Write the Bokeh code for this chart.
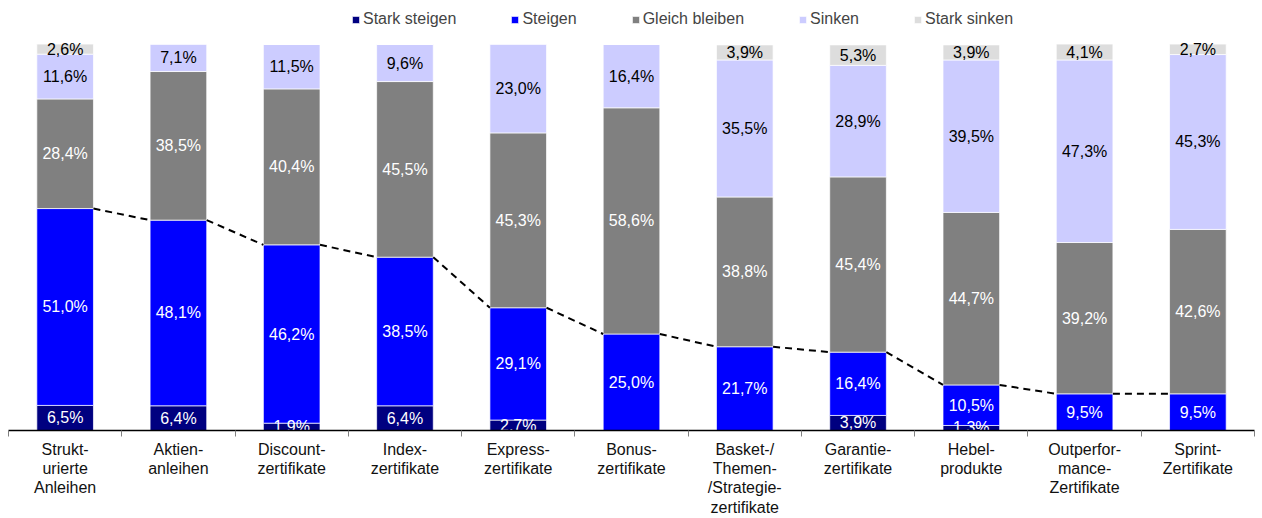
from bokeh.plotting import figure
from bokeh.models import ColumnDataSource, Range1d, FixedTicker, Legend
from bokeh.core.properties import value
from bokeh.embed import file_html
from bokeh.resources import INLINE

categories = ["Strukt-\nurierte\nAnleihen", "Aktien-\nanleihen", "Discount-\nzertifikate",
              "Index-\nzertifikate", "Express-\nzertifikate", "Bonus-\nzertifikate",
              "Basket-/\nThemen-\n/Strategie-\nzertifikate", "Garantie-\nzertifikate",
              "Hebel-\nprodukte", "Outperfor-\nmance-\nZertifikate", "Sprint-\nZertifikate"]
series_names = ["Stark steigen", "Steigen", "Gleich bleiben", "Sinken", "Stark sinken"]
stark_steigen = [6.5, 6.4, 1.9, 6.4, 2.7, 0.0, 0.0, 3.9, 1.3, 0.0, 0.0]
steigen       = [51.0, 48.1, 46.2, 38.5, 29.1, 25.0, 21.7, 16.4, 10.5, 9.5, 9.5]
gleich        = [28.4, 38.5, 40.4, 45.5, 45.3, 58.6, 38.8, 45.4, 44.7, 39.2, 42.6]
sinken        = [11.6, 7.1, 11.5, 9.6, 23.0, 16.4, 35.5, 28.9, 39.5, 47.3, 45.3]
stark_sinken  = [2.6, 0.0, 0.0, 0.0, 0.0, 0.0, 3.9, 5.3, 3.9, 4.1, 2.7]

colors = ["#000080", "#0000FF", "#808080", "#CCCCFF", "#DDDDDD"]
label_colors = ["white", "white", "white", "black", "black"]
FONT = "Liberation Sans"

n = len(categories)
xs = [i + 0.5 for i in range(n)]
keys = ["s0", "s1", "s2", "s3", "s4"]
data = dict(x=xs, s0=stark_steigen, s1=steigen, s2=gleich, s3=sinken, s4=stark_sinken)
source = ColumnDataSource(data)

FH = 430  # expected frame height
p = figure(width=1262, height=518, output_backend="svg", toolbar_location=None,
           x_range=Range1d(0, n), y_range=Range1d(0, 100.0 * FH / (FH - 44)),
           min_border_left=8, min_border_right=8, min_border_top=0, min_border_bottom=60)
p.outline_line_color = None
p.xgrid.visible = False
p.ygrid.visible = False
p.yaxis.visible = False

renderers = p.vbar_stack(keys, x="x", width=0.5, source=source, color=colors,
                         line_color="white", line_width=1, line_alpha=0.7)

# value labels
lx, ly, lt, lc = [], [], [], []
series = [stark_steigen, steigen, gleich, sinken, stark_sinken]
for i in range(n):
    cum = 0.0
    for k, s in enumerate(series):
        v = s[i]
        if v > 0:
            lx.append(xs[i])
            ly.append(cum + v / 2)
            lt.append(f"{v:.1f}".replace(".", ",") + "%")
            lc.append(label_colors[k])
        cum += v
lsrc = ColumnDataSource(dict(x=lx, y=ly, t=lt, c=lc))
p.text(x="x", y="y", text="t", text_color="c", source=lsrc, text_align="center",
       text_baseline="middle", text_font=value(FONT), text_font_size="16px")

# series lines between tops of "steigen"
tops = [a + b for a, b in zip(stark_steigen, steigen)]
p.segment(x0=[xs[i] + 0.25 for i in range(n - 1)], y0=tops[:-1],
          x1=[xs[i + 1] - 0.25 for i in range(n - 1)], y1=tops[1:],
          line_color="black", line_width=2, line_dash="7 5")

# x axis
ax = p.xaxis[0]
ax.ticker = FixedTicker(ticks=xs, minor_ticks=list(range(n + 1)))
ax.major_label_overrides = {x: c for x, c in zip(xs, categories)}
ax.major_tick_out = 0
ax.major_tick_in = 0
ax.minor_tick_out = 6
ax.minor_tick_in = 0
ax.minor_tick_line_color = "#808080"
ax.axis_line_color = "black"
ax.axis_line_width = 1.5
ax.major_label_standoff = 4
ax.major_label_text_font = FONT
ax.major_label_text_font_size = "16px"
ax.major_label_text_line_height = 1.14
ax.major_label_text_color = "#111111"

legend = Legend(items=[(name, [r]) for name, r in zip(series_names, renderers)],
                orientation="horizontal", location=(343, FH - 29))
legend.padding = 0
legend.margin = 0
legend.spacing = 54
legend.border_line_color = None
legend.background_fill_alpha = 0
legend.glyph_width = 9
legend.glyph_height = 9
legend.label_standoff = 3
legend.label_text_font = FONT
legend.label_text_font_size = "16px"
legend.label_height = 20
p.add_layout(legend)

open("out.html", "w").write(file_html(p, INLINE))
